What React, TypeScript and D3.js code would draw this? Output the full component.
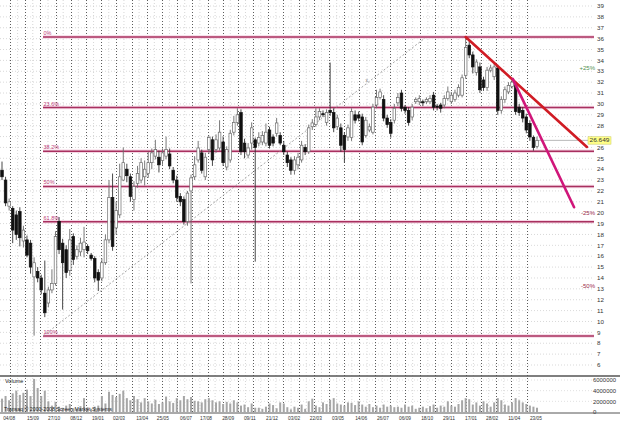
import * as d3 from "d3";

// weekly candles: [open, high, low, close]
const candles: [number, number, number, number][] = [
  [23.9, 24.7, 23.0, 23.3], [23.0, 23.3, 20.6, 20.9], [20.6, 21.3, 20.2, 21.0], [20.4, 20.6, 17.2, 18.4],
  [19.8, 20.2, 17.5, 18.0], [20.1, 20.5, 16.9, 17.7], [17.4, 18.8, 16.8, 18.4], [17.5, 17.9, 15.9, 16.1],
  [17.2, 17.5, 14.4, 15.0], [14.1, 15.9, 8.7, 15.4], [14.6, 15.0, 13.6, 14.0], [14.0, 14.3, 12.5, 12.9],
  [12.6, 15.6, 10.4, 10.8], [11.7, 13.2, 11.3, 12.9], [12.9, 14.8, 12.6, 13.5], [13.5, 18.3, 13.3, 17.8],
  [19.2, 19.6, 16.2, 16.6], [17.2, 17.6, 11.1, 15.4], [16.6, 17.0, 14.0, 14.5], [14.7, 18.5, 14.2, 17.5],
  [17.8, 18.1, 15.2, 15.7], [16.0, 17.0, 15.7, 16.6], [16.4, 17.7, 16.0, 17.2], [16.6, 18.7, 15.9, 17.3],
  [16.9, 17.1, 16.2, 16.5], [16.1, 16.3, 15.6, 15.8], [15.8, 16.0, 13.6, 14.0], [14.5, 14.8, 12.8, 13.8],
  [14.0, 15.8, 13.7, 15.4], [15.4, 18.0, 15.2, 17.5], [17.5, 23.0, 17.2, 21.4], [21.4, 23.6, 16.5, 16.9],
  [18.6, 21.0, 18.0, 20.2], [19.8, 24.5, 19.5, 23.3], [23.0, 26.0, 22.9, 24.6], [24.0, 24.5, 22.8, 23.4],
  [23.3, 23.6, 21.0, 21.5], [21.2, 22.9, 20.2, 22.4], [22.7, 24.3, 22.3, 23.6], [23.0, 25.0, 22.7, 24.6],
  [23.3, 24.8, 22.5, 24.0], [23.6, 25.6, 23.2, 24.6], [24.6, 25.9, 24.0, 25.5], [25.2, 26.7, 24.9, 25.8],
  [25.1, 25.7, 23.7, 24.4], [24.8, 25.9, 24.4, 25.5], [25.2, 27.0, 24.9, 25.8], [25.4, 25.9, 24.0, 24.3],
  [23.9, 24.2, 22.7, 23.0], [23.0, 23.4, 21.0, 21.4], [21.5, 21.8, 20.6, 21.0], [21.2, 21.5, 18.9, 19.2],
  [19.2, 22.0, 18.8, 21.8], [22.0, 23.5, 13.5, 23.2], [23.3, 25.2, 23.0, 24.4],
  [24.85, 26.6, 24.6, 25.95], [25.5, 25.8, 23.6, 23.9], [23.3, 25.5, 23.0, 25.1], [25.8, 27.1, 25.4, 26.9],
  [26.7, 27.0, 24.3, 24.85], [25.8, 27.2, 25.5, 26.7], [25.95, 28.5, 25.7, 27.4], [26.5, 27.0, 24.3, 24.6],
  [24.2, 26.1, 23.9, 25.8], [24.85, 27.6, 24.6, 27.3], [27.4, 28.9, 27.1, 28.3], [28.3, 29.6, 28.0, 29.0],
  [29.2, 29.5, 25.3, 25.6], [26.4, 26.8, 25.0, 25.6], [25.3, 26.4, 25.0, 25.95], [26.4, 28.3, 25.8, 27.8],
  [26.7, 26.9, 15.5, 26.0], [26.4, 27.4, 26.1, 26.9], [26.5, 27.5, 26.2, 27.1], [26.4, 28.2, 26.1, 27.4],
  [27.6, 27.9, 25.9, 26.2], [26.96, 27.2, 26.1, 26.4], [27.3, 28.7, 27.0, 28.25], [27.1, 27.4, 26.2, 26.4],
  [26.2, 26.6, 25.3, 25.6], [25.3, 25.6, 24.2, 24.6], [24.85, 25.1, 23.5, 23.9], [23.9, 25.2, 23.5, 24.85],
  [24.4, 25.5, 24.0, 25.1], [24.85, 26.6, 24.6, 26.2], [26.0, 26.3, 25.3, 25.6], [25.6, 28.1, 25.4, 27.8],
  [27.9, 28.6, 27.6, 28.25], [28.1, 29.6, 27.9, 28.8], [28.8, 29.6, 28.5, 29.3], [29.1, 29.4, 28.8, 29.0],
  [28.3, 29.5, 28.0, 29.2], [29.4, 33.8, 28.9, 29.2], [29.2, 29.6, 27.4, 27.8], [27.9, 29.0, 27.6, 28.7],
  [27.8, 28.2, 25.6, 26.2], [27.1, 27.4, 24.6, 25.8], [26.96, 28.1, 26.6, 27.8], [26.9, 29.6, 26.6, 29.3],
  [29.0, 29.4, 28.2, 28.5], [28.98, 29.3, 28.4, 28.7], [28.8, 29.1, 26.2, 26.5], [27.1, 28.8, 26.9, 28.5],
  [27.6, 28.2, 27.4, 27.9], [27.4, 30.0, 27.2, 29.7], [29.9, 31.3, 29.6, 30.6], [30.6, 31.4, 30.4, 31.1],
  [30.4, 30.8, 28.4, 28.7], [28.7, 29.0, 27.8, 28.1], [28.3, 28.6, 26.9, 27.3], [28.5, 30.0, 28.2, 29.6],
  [30.1, 31.0, 29.8, 30.6], [31.0, 31.3, 29.3, 29.6], [29.7, 29.9, 29.1, 29.4], [29.4, 29.7, 28.0, 28.3],
  [28.8, 30.0, 28.5, 29.7], [30.2, 30.6, 30.0, 30.4], [30.2, 30.8, 29.9, 30.5], [30.2, 30.4, 29.8, 30.1],
  [30.2, 30.6, 30.0, 30.4], [30.2, 30.8, 30.0, 30.5], [30.8, 31.1, 29.4, 29.7], [29.8, 30.0, 29.4, 29.7],
  [29.9, 30.1, 29.2, 29.6], [29.9, 30.8, 29.6, 30.5], [30.5, 31.6, 30.3, 31.1], [30.2, 31.1, 30.0, 30.8],
  [30.4, 31.3, 30.2, 31.0], [30.8, 31.8, 30.6, 31.5], [30.8, 32.7, 30.6, 32.4], [32.6, 36.15, 32.3, 35.2],
  [35.4, 35.8, 34.2, 34.5], [34.5, 34.8, 32.8, 33.4], [32.9, 34.1, 32.6, 33.85], [33.4, 33.8, 31.0, 31.3],
  [32.2, 32.5, 31.2, 31.5], [31.5, 33.4, 31.2, 33.1], [33.1, 33.6, 32.9, 33.3], [32.5, 33.7, 32.2, 33.4],
  [33.3, 33.6, 29.0, 29.4], [29.4, 30.7, 29.1, 30.4], [30.4, 31.6, 30.1, 31.3], [31.1, 32.0, 30.9, 31.7],
  [31.6, 32.3, 31.4, 32.0], [31.7, 32.0, 29.0, 29.3], [29.7, 30.0, 28.9, 29.2], [29.4, 29.7, 28.3, 28.7],
  [28.8, 29.1, 27.3, 27.6], [28.2, 28.5, 26.6, 26.96], [26.9, 27.1, 25.7, 26.0], [26.1, 27.0, 25.9, 26.649],
];

// weekly volume, millions
const volumes = [
  2.5, 3.0, 2.2, 3.5, 4.0, 3.2, 3.6, 4.2, 3.0, 6.2, 4.5, 3.0, 4.0, 2.0,
  1.2, 1.9, 1.0, 0.8, 1.2, 1.5, 0.7, 0.6, 1.1, 2.6, 0.9, 0.6, 1.0,
  1.2, 3.0, 1.6, 3.8, 3.2, 2.8, 3.4, 4.0, 2.6,
  2.2, 3.0, 2.4, 1.8, 2.6, 2.0, 1.6, 2.3, 1.5, 1.8, 2.9, 2.0, 1.7, 2.6, 2.2, 3.0, 2.4, 2.8, 2.1,
  2.0, 1.8, 2.4, 2.6, 2.2, 1.8, 2.0, 1.5, 1.9, 1.6, 2.2, 1.8, 1.2, 1.4, 0.9, 1.6, 0.8,
  0.8, 0.6, 1.0, 1.6, 1.3, 0.7, 1.8, 1.6, 0.9, 0.5, 1.0,
  0.8, 1.4, 0.6, 2.0, 2.5, 1.2, 0.9, 1.8, 1.5, 2.3, 2.6,
  1.6, 1.4, 1.2, 1.8, 1.7, 1.3, 2.0, 1.4, 1.0, 1.5, 0.9, 1.2, 0.8, 1.4, 1.0, 1.2, 0.9,
  1.0, 0.8, 1.4, 1.0, 1.2, 0.6, 0.8, 1.0, 0.7, 1.1, 1.4, 0.8, 1.2, 1.0,
  2.0, 1.2, 1.0, 1.5, 2.2, 2.6, 2.4, 1.4, 1.8, 1.2, 2.0, 1.6,
  1.0, 1.8, 2.6, 2.2, 1.4, 1.2, 1.8, 2.6, 2.2, 1.8, 1.5, 1.2, 1.0, 0.8,
];

const dateLabels = [
  "04/08", "15/09", "27/10", "08/12", "19/01", "02/03", "13/04", "25/05", "06/07", "17/08", "28/09", "09/11", "21/12",
  "03/02", "22/03", "03/05", "14/06", "26/07", "06/09", "18/10", "29/11", "17/01", "28/02", "11/04", "23/05",
];
const dateTickIdx = [
  2.0, 8.7, 14.6, 20.8, 26.9, 32.8, 39.3, 45.1, 51.6, 57.2, 63.4, 69.5, 75.7,
  81.9, 88.0, 94.2, 100.7, 106.8, 113.0, 119.2, 125.3, 131.5, 137.4, 143.6, 149.7,
];

const fibRatios = [0, 0.236, 0.382, 0.5, 0.618, 1];
const fibNames = ["0%", "23.6%", "38.2%", "50%", "61.8%", "100%"];
const fibHigh = 36.15;
const fibLow = 8.67;
const fibStartIdx = 11.5;

const lastClose = 26.649;
const targetRatios = [1.25, 0.75, 0.5];
const targetNames = ["+25%", "-25%", "-50%"];
const targetColors = ["#4f8f4f", "#9a2a4a", "#9a2a4a"];

const redLine: [number, number][] = [[130, 36.15], [164, 26.04]];
const pinkLine: [number, number][] = [[143.2, 32.3], [160.4, 20.5]];
const dashLine: [number, number][] = [[11.5, 8.67], [118.6, 36.06]];

const volTicks = [0, 2, 4, 6];

const W = 620;
const H = 421;
const plotR = 594;
const mainBottom = 376;
const axisY = 413;
const FONT = "'Liberation Sans', Arial, sans-serif";

export default function App() {
  const x = d3.scaleLinear().domain([0, 150]).range([2, 537]);
  const y = d3.scaleLinear().domain([6, 39]).range([365, 6]);
  const yv = d3.scaleLinear().domain([0, 6]).range([412, 380]);
  const bw = 2.6;

  // the last-price box hides the tick label it sits on
  const priceTicks = d3.range(6, 40).filter((p) => Math.abs(y(p) - y(lastClose)) > 5);
  const gridTicks = d3.range(6, 40);
  const monthGrid = d3.range(0, 35).map((k) => 2.24 + k * 4.26);
  const halfGrid = monthGrid.map((v) => v + 2.13);
  const line = d3.line<[number, number]>().x((d) => x(d[0])).y((d) => y(d[1]));

  return (
    <svg width={W} height={H} style={{ position: "absolute", left: 0, top: 0, background: "#fff" }} fontFamily={FONT}>
      <rect width={W} height={H} fill="#fff" />
      {/* horizontal price grid */}
      {gridTicks.map((p) => (
        <line key={"h" + p} x1={0} x2={plotR} y1={y(p)} y2={y(p)} stroke="#cfcfcf" strokeWidth={0.8} strokeDasharray="1,2" />
      ))}
      {volTicks.slice(1).map((v) => (
        <line key={"hv" + v} x1={0} x2={plotR} y1={yv(v)} y2={yv(v)} stroke="#d8d8d8" strokeWidth={0.8} strokeDasharray="1,2" />
      ))}
      {/* vertical grid */}
      {halfGrid.filter((v) => x(v) < 530).map((v, i) => (
        <line key={"vl" + i} x1={x(v)} x2={x(v)} y1={0} y2={axisY} stroke="#cccccc" strokeWidth={0.8} strokeDasharray="1,2" />
      ))}
      {monthGrid.map((v, i) => (
        <line key={"vm" + i} x1={Math.round(x(v)) + 0.5} x2={Math.round(x(v)) + 0.5} y1={0} y2={axisY} stroke="#4a4a4a" strokeWidth={0.9} strokeDasharray="1,2" />
      ))}

      {/* fibonacci levels */}
      {fibRatios.map((r, i) => {
        const yy = y(fibHigh - r * (fibHigh - fibLow));
        return (
          <g key={"f" + i}>
            <line x1={x(fibStartIdx)} x2={plotR} y1={yy} y2={yy} stroke="#f5d6e4" strokeWidth={3.6} />
            <line x1={x(fibStartIdx)} x2={plotR} y1={yy} y2={yy} stroke="#a8305f" strokeWidth={1.4} />
            <text x={x(fibStartIdx) + 0.5} y={yy - 2} fontSize={5.5} fill="#c0407a">{fibNames[i]}</text>
          </g>
        );
      })}

      {/* dashed diagonal */}
      <path d={line(dashLine) ?? ""} stroke="#9a9a9a" strokeWidth={0.9} strokeDasharray="2,2" fill="none" />
      <text x={x(102.3)} y={y(32.2) + 2} fontSize={5} fill="#777" textAnchor="middle">x</text>

      {/* last close marker line */}
      <line x1={x(candles.length - 1)} x2={plotR} y1={y(lastClose)} y2={y(lastClose)} stroke="#9a9a9a" strokeWidth={0.7} />

      {/* candles */}
      {candles.map(([o, h, l, c], i) => {
        const cx = x(i);
        const up = c >= o;
        const top = y(Math.max(o, c));
        const bh = Math.max(0.9, Math.abs(y(o) - y(c)));
        return (
          <g key={"c" + i}>
            <line x1={cx} x2={cx} y1={y(h)} y2={y(l)} stroke={up ? "#6a6a6a" : "#333"} strokeWidth={0.9} />
            <rect x={cx - bw / 2} y={top} width={bw} height={bh} fill={up ? "#fff" : "#111"} stroke={up ? "#6a6a6a" : "#111"} strokeWidth={0.7} />
          </g>
        );
      })}

      {/* trend lines */}
      <path d={line(redLine) ?? ""} stroke="#d01c24" strokeWidth={2.6} fill="none" strokeLinecap="round" />
      <path d={line(pinkLine) ?? ""} stroke="#d0167a" strokeWidth={2.6} fill="none" strokeLinecap="round" />

      {/* target annotations */}
      {targetRatios.map((r, i) => (
        <text key={"t" + i} x={595} y={y(lastClose * r) + 2.2} fontSize={6} fill={targetColors[i]} textAnchor="end">
          {targetNames[i]}
        </text>
      ))}

      {/* price axis labels */}
      {priceTicks.map((p) => (
        <text key={"pl" + p} x={597} y={y(p) + 2.2} fontSize={6.2} fill="#333">{p}</text>
      ))}
      <rect x={588} y={y(lastClose) - 3.6} width={23} height={7.4} fill="#ffff88" stroke="#c8c860" strokeWidth={0.5} />
      <text x={589.5} y={y(lastClose) + 2} fontSize={5.4} fill="#333" textLength={20} lengthAdjust="spacingAndGlyphs">
        {lastClose.toFixed(3)}
      </text>

      {/* volume panel */}
      <line x1={0} x2={W} y1={mainBottom} y2={mainBottom} stroke="#555" strokeWidth={1.4} />
      {volumes.map((v, i) => (
        <rect key={"v" + i} x={x(i) - 1} y={yv(v)} width={2} height={yv(0) - yv(v)} fill="#a6a6a6" />
      ))}
      <text x={5} y={383} fontSize={5.5} fill="#222">Volume</text>
      <text x={4} y={410.5} fontSize={5.5} fill="#222" textLength={108} lengthAdjust="spacingAndGlyphs">
        Transaq © 2000-2008 Screen Market Systems
      </text>
      {volTicks.map((v) => (
        <text key={"vt" + v} x={593} y={yv(v) + 2.2} fontSize={6} fill="#333" textLength={v === 0 ? undefined : 23} lengthAdjust="spacingAndGlyphs">
          {v === 0 ? "0" : String(v * 1000000)}
        </text>
      ))}

      {/* date axis */}
      <line x1={0} x2={W} y1={axisY} y2={axisY} stroke="#555" strokeWidth={1} />
      {dateLabels.map((d, i) => (
        <text key={"d" + i} x={x(dateTickIdx[i])} y={420} fontSize={6} fill="#333" textAnchor="middle" textLength={12} lengthAdjust="spacingAndGlyphs">
          {d}
        </text>
      ))}
    </svg>
  );
}
